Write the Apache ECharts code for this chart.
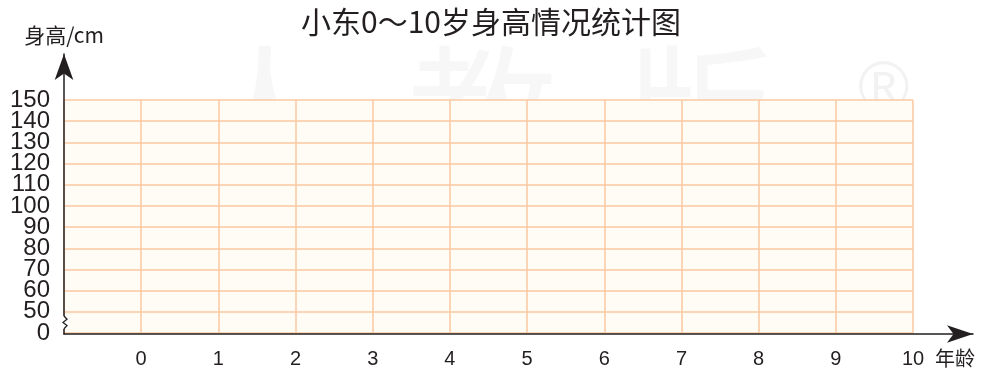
<!DOCTYPE html>
<html>
<head>
<meta charset="utf-8">
<script src="https://cdn.jsdelivr.net/npm/echarts@6/dist/echarts.min.js"></script>
<style>
  html, body { margin: 0; padding: 0; background: #ffffff; }
  #chart { width: 982px; height: 369px; }
</style>
</head>
<body>
<div id="chart"></div>
<script>
// Chart text and tick labels
const titleText = '小东0～10岁身高情况统计图';
const yAxisName = '身高/cm';
const xAxisName = '年龄';
const ageLabels = ['0', '1', '2', '3', '4', '5', '6', '7', '8', '9', '10'];
const heightLabels = ['0', '50', '60', '70', '80', '90', '100', '110', '120', '130', '140', '150'];
// Heights recorded so far (blank chart to be filled in)
const heightValues = [];

const ink = '#231f20';
const gridColor = '#fbc8a1';
const numFont = '"Liberation Sans", Arial, sans-serif';
const cjkFont = '"Noto Sans CJK SC", sans-serif';

const chart = echarts.init(document.getElementById('chart'));

// First slot is the space left of age 0, where the vertical axis sits
const xCats = [''].concat(ageLabels);

chart.setOption({
  animation: false,
  title: {
    text: titleText,
    left: 'center',
    top: 2,
    textStyle: { fontFamily: cjkFont, fontSize: 30, fontWeight: 'normal', color: ink }
  },
  grid: [
    { left: 64, right: 69, top: 100, bottom: 35, show: true, backgroundColor: '#fffcf6', borderWidth: 0 },
    { left: 64, right: 9, top: 54, bottom: 35 }
  ],
  xAxis: [
    {
      gridIndex: 0, type: 'category', data: xCats, boundaryGap: false,
      axisLine: { show: false }, axisTick: { show: false },
      axisLabel: { fontFamily: numFont, fontSize: 20, color: ink, margin: 16, interval: 0 },
      splitLine: { show: true, lineStyle: { color: gridColor, width: 1.5 } }
    },
    {
      gridIndex: 1, type: 'value', min: 0, max: 1,
      axisLine: { show: true, onZero: false, symbol: ['none', 'arrow'], symbolSize: [13, 26], lineStyle: { color: ink, width: 1.5 } },
      axisTick: { show: false }, axisLabel: { show: false }, splitLine: { show: false }
    }
  ],
  yAxis: [
    {
      gridIndex: 0, type: 'category', data: heightLabels, boundaryGap: false,
      axisLine: { show: false }, axisTick: { show: false },
      axisLabel: { fontFamily: numFont, fontSize: 24, color: ink, margin: 14, interval: 0, lineHeight: 20 },
      splitLine: { show: true, lineStyle: { color: gridColor, width: 1.5 } }
    },
    {
      gridIndex: 1, type: 'value', min: 0, max: 1,
      axisLine: { show: true, onZero: false, symbol: ['none', 'arrow'], symbolSize: [14, 26], lineStyle: { color: ink, width: 1.5 } },
      axisTick: { show: false }, axisLabel: { show: false }, splitLine: { show: false },
      name: yAxisName, nameLocation: 'end', nameGap: 8,
      nameTextStyle: { fontFamily: cjkFont, fontSize: 21, color: ink, align: 'center' }
    }
  ],
  series: [
    { type: 'line', xAxisIndex: 0, yAxisIndex: 0, data: heightValues, silent: true }
  ]
});

// Publisher watermark, the age-axis name and the axis break between 0 and 50
const p0 = chart.convertToPixel({ xAxisIndex: 0, yAxisIndex: 0 }, ['', '0']);
const y50 = chart.convertToPixel({ xAxisIndex: 0, yAxisIndex: 0 }, ['', '50'])[1];
const x10 = chart.convertToPixel({ xAxisIndex: 0, yAxisIndex: 0 }, ['10', '0'])[0];
const ax = p0[0], y0 = p0[1];
const gap = y0 - y50;
chart.setOption({
  graphic: [
    {
      type: 'text', left: 190, top: 40, silent: true, z: -1,
      style: { text: '人  教  版', fontFamily: cjkFont, fontSize: 150, fill: 'rgba(0,0,0,0.03)' }
    },
    {
      type: 'text', left: 858, top: 56, silent: true, z: -1,
      style: { text: '®', fontFamily: numFont, fontSize: 70, fill: 'rgba(0,0,0,0.05)' }
    },
    {
      type: 'text', x: x10 + 22, y: y0 + 25, silent: true,
      style: { text: xAxisName, fontFamily: cjkFont, fontSize: 20, fill: ink, verticalAlign: 'middle', align: 'left' }
    },
    {
      type: 'rect', z: 100,
      shape: { x: ax - 3, y: y50 + gap * 0.2, width: 8, height: gap * 0.6 },
      style: { fill: '#ffffff' }
    },
    {
      type: 'polyline', z: 101,
      shape: { points: [
        [ax, y50 + gap * 0.2],
        [ax + 3, y50 + gap * 0.35],
        [ax - 1, y50 + gap * 0.5],
        [ax + 3, y50 + gap * 0.65],
        [ax, y50 + gap * 0.8]
      ] },
      style: { stroke: ink, lineWidth: 1.3, fill: null }
    }
  ]
});
</script>
</body>
</html>
